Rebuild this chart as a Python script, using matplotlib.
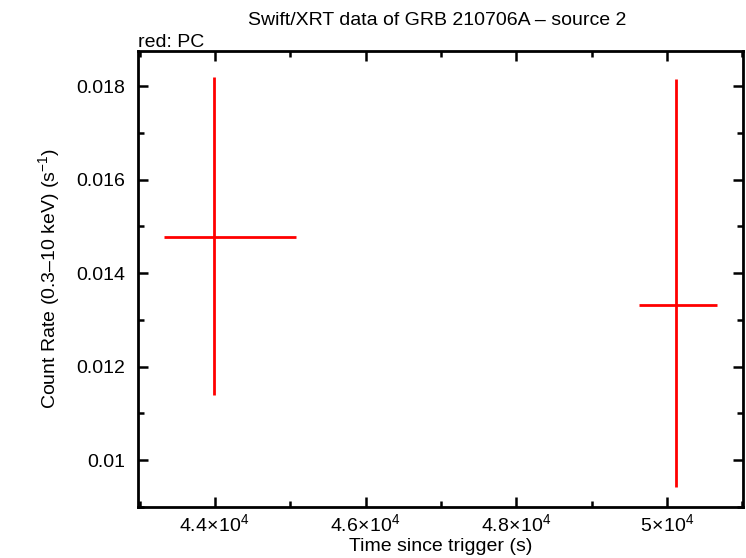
import matplotlib
matplotlib.use('Agg')
import matplotlib.pyplot as plt
from matplotlib.ticker import MultipleLocator, FuncFormatter

plt.rcParams['font.family'] = ['Liberation Sans', 'DejaVu Sans']
plt.rcParams['mathtext.fontset'] = 'custom'
plt.rcParams['mathtext.rm'] = 'Liberation Sans'

# PC mode data
t = [43990, 50120]
t_lo = [43330, 49628]
t_hi = [45071, 50665]
rate = [0.01478, 0.01332]
rate_lo = [0.01140, 0.00942]
rate_hi = [0.01819, 0.01815]

xerr = [[c - l for c, l in zip(t, t_lo)], [h - c for c, h in zip(t, t_hi)]]
yerr = [[c - l for c, l in zip(rate, rate_lo)], [h - c for c, h in zip(rate, rate_hi)]]

fig = plt.figure(figsize=(7.46, 5.58), dpi=100)
ax = fig.add_axes([0.185, 0.0914, 0.811, 0.8172])

ax.errorbar(t, rate, xerr=xerr, yerr=yerr, fmt='none', ecolor='red',
            elinewidth=2.0, capsize=0)

ax.set_xlim(42980, 51010)
ax.set_ylim(0.009, 0.01875)

def xfmt(v, pos):
    m = v / 1e4
    s = ('%g' % m)
    return r'$%s\!\times\!10^{4}$' % s

def yfmt(v, pos):
    s = '%.3f' % v
    if abs(v - 0.01) < 1e-9:
        s = '0.01'
    return s

ax.xaxis.set_major_locator(MultipleLocator(2000))
ax.xaxis.set_minor_locator(MultipleLocator(1000))
ax.xaxis.set_major_formatter(FuncFormatter(xfmt))
ax.yaxis.set_major_locator(MultipleLocator(0.002))
ax.yaxis.set_minor_locator(MultipleLocator(0.001))
ax.yaxis.set_major_formatter(FuncFormatter(yfmt))

ax.tick_params(which='both', direction='in', top=True, right=True, width=1.8, labelsize=14)
ax.tick_params(which='major', length=7)
ax.tick_params(which='minor', length=4)
ax.tick_params(axis='y', pad=9)
ax.tick_params(axis='x', pad=5)
for s in ax.spines.values():
    s.set_linewidth(2.0)

ax.set_xlabel('Time since trigger (s)', fontsize=14, labelpad=1)
ax.set_ylabel('Count Rate (0.3\u201310 keV) (s$^{-1}$)', fontsize=14, labelpad=10)

fig.text(0.586, 0.964, 'Swift/XRT data of GRB 210706A \u2013 source 2', ha='center', va='center', fontsize=14)
fig.text(0.185, 0.923, 'red: PC', ha='left', va='center', fontsize=14)

fig.savefig('out.png', dpi=100)
